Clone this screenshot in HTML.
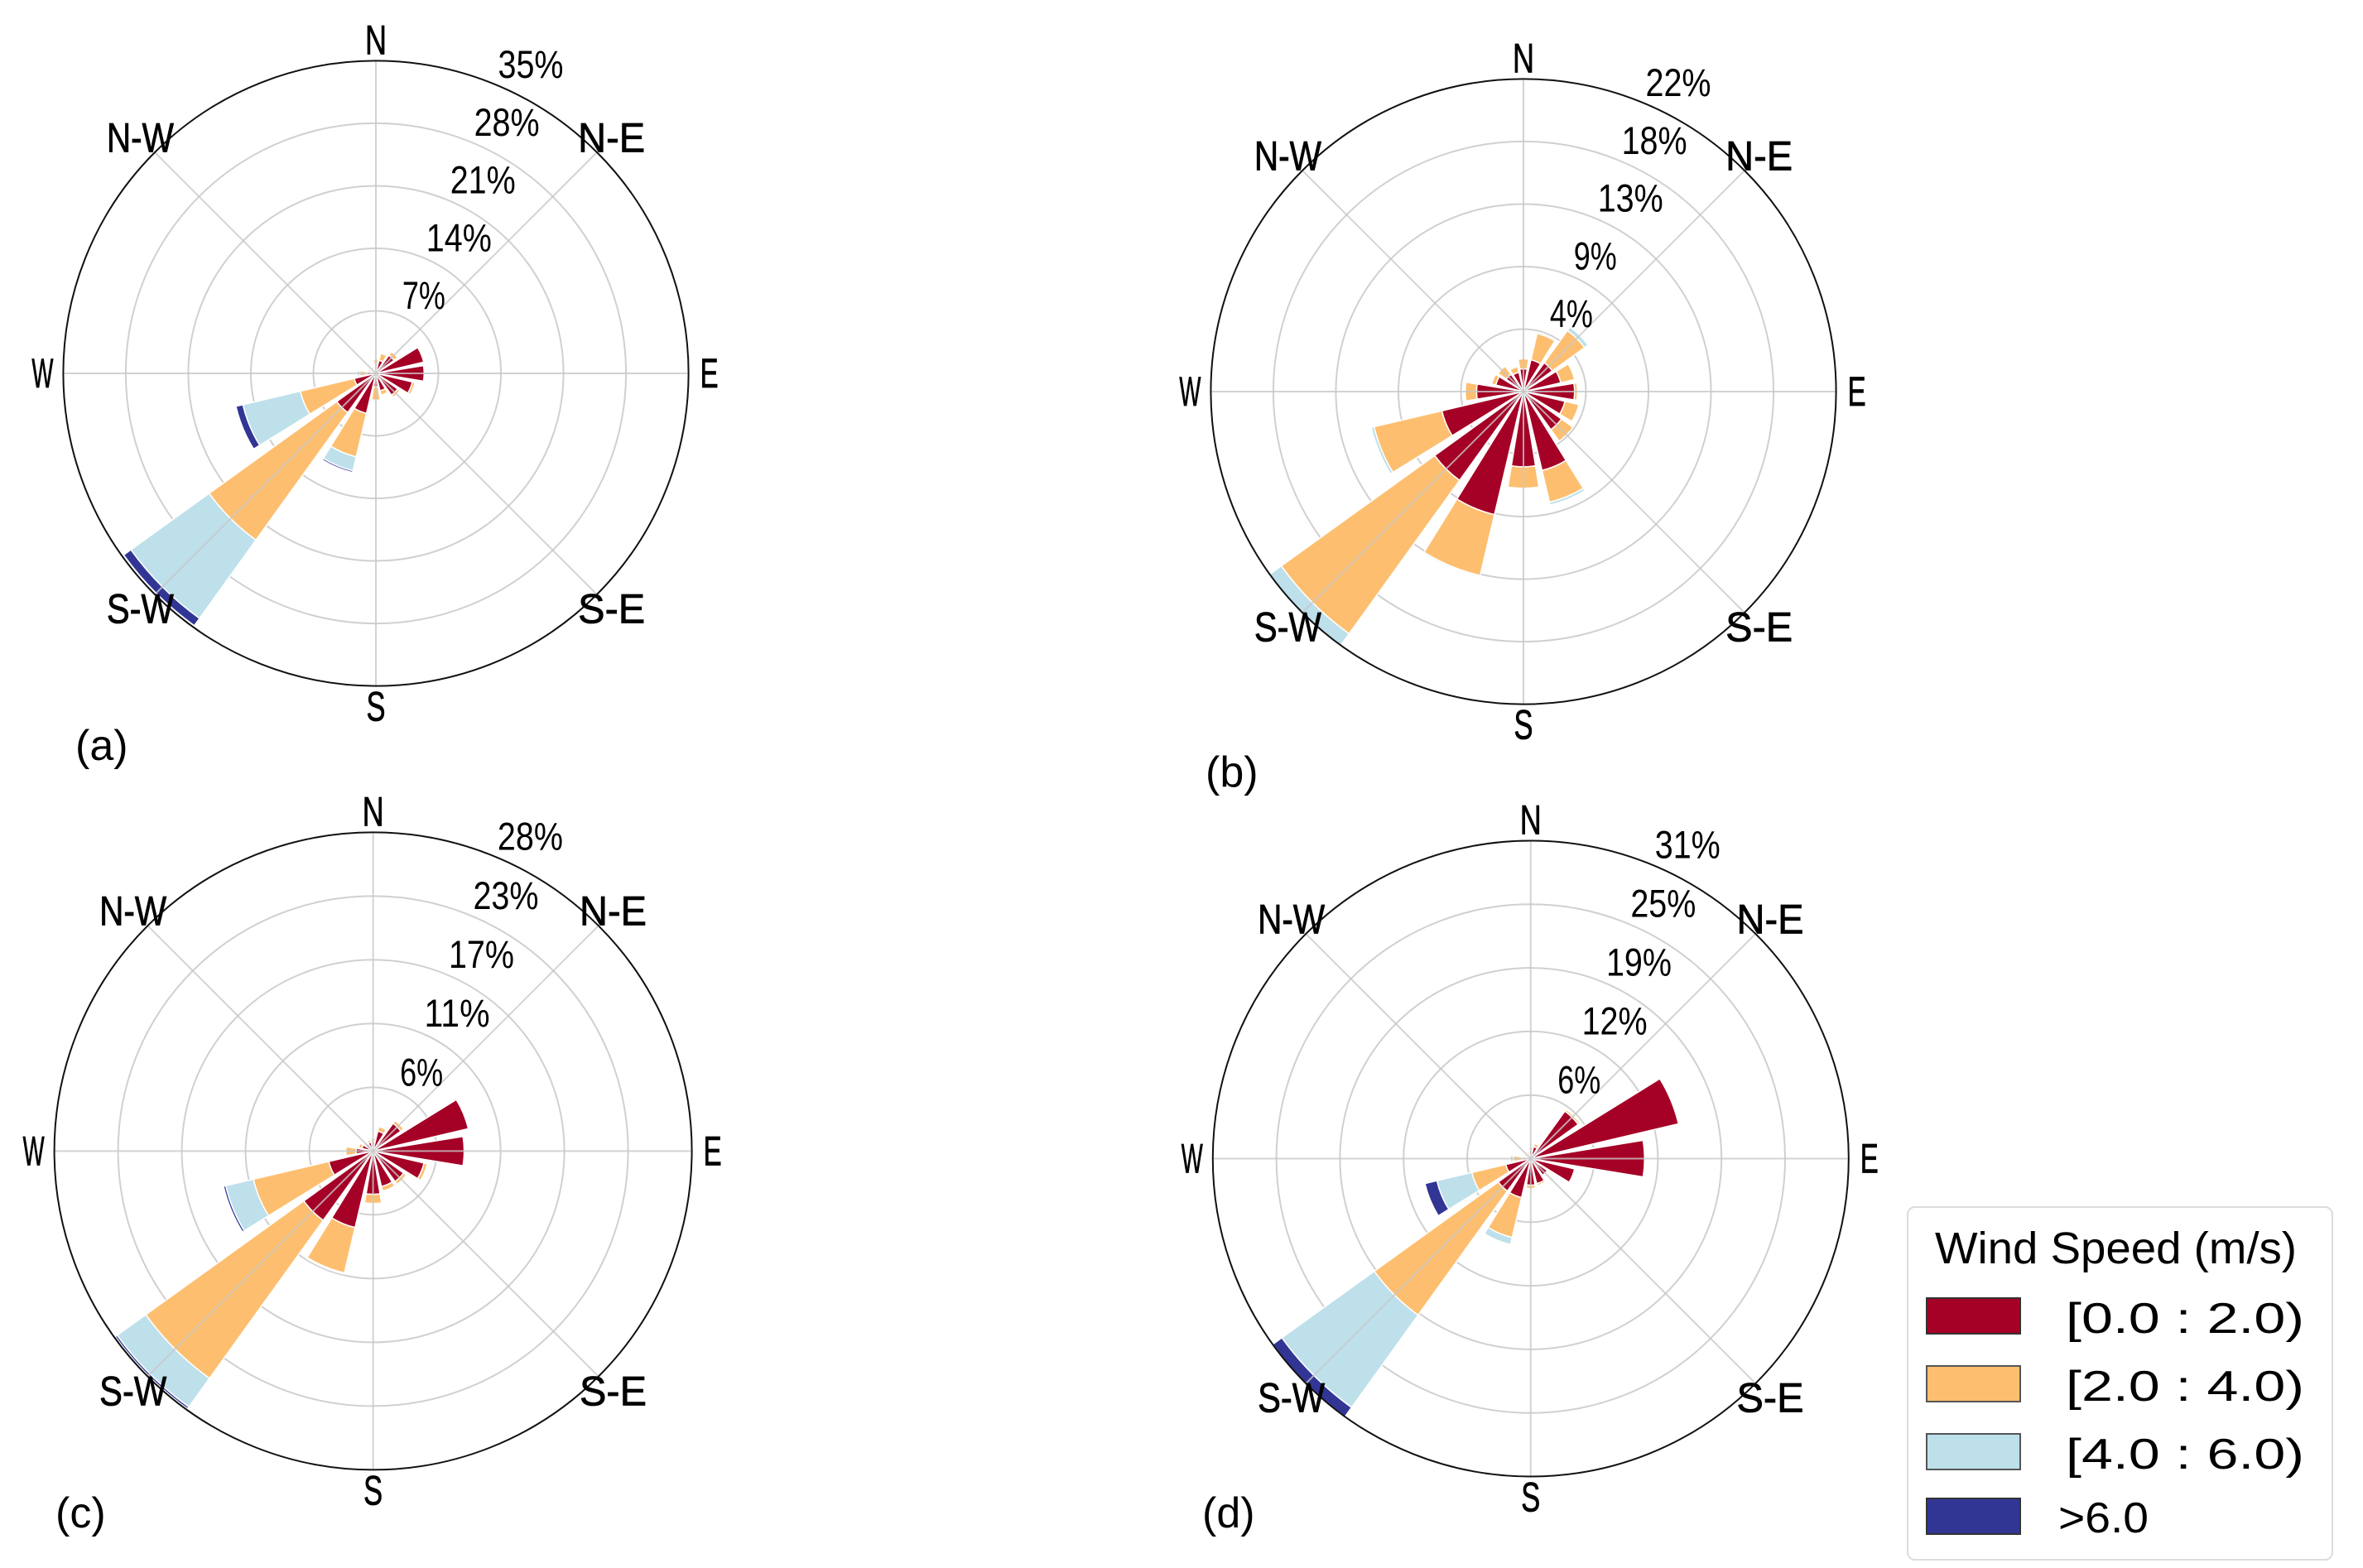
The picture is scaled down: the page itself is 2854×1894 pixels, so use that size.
<!DOCTYPE html>
<html><head><meta charset="utf-8"><style>
html,body{margin:0;padding:0;background:#fff;}
svg{display:block;}
text{font-family:"Liberation Sans","Noto Sans CJK JP",sans-serif;fill:#000;}
</style></head><body>
<svg id="chart" xmlns="http://www.w3.org/2000/svg" width="2854" height="1894" viewBox="0 0 2854 1894">
<rect width="2854" height="1894" fill="#fff"/>
<g id="panels"></g>
<g>
  <rect x="2304" y="1458" width="513" height="426" rx="9" fill="#fff" stroke="#dcdcdc" stroke-width="2"/>
  <text x="2337" y="1526" font-size="54" textLength="437" lengthAdjust="spacingAndGlyphs">Wind Speed (m/s)</text>
  <g><rect x="2327" y="1568" width="113" height="43" fill="#a50026" stroke="#333" stroke-width="2"/><text x="2495" y="1610" font-size="52" textLength="288" lengthAdjust="spacingAndGlyphs">[0.0 : 2.0)</text></g>
  <g><rect x="2327" y="1650" width="113" height="43" fill="#fdbf6f" stroke="#555" stroke-width="2"/><text x="2495" y="1692" font-size="52" textLength="288" lengthAdjust="spacingAndGlyphs">[2.0 : 4.0)</text></g>
  <g><rect x="2327" y="1732" width="113" height="43" fill="#bde0eb" stroke="#555" stroke-width="2"/><text x="2495" y="1774" font-size="52" textLength="288" lengthAdjust="spacingAndGlyphs">[4.0 : 6.0)</text></g>
  <g><rect x="2327" y="1810" width="113" height="43" fill="#313695" stroke="#333" stroke-width="2"/><text x="2486" y="1851" font-size="52" textLength="109" lengthAdjust="spacingAndGlyphs">&gt;6.0</text></g>
</g>
</svg>
<script>
// Sector order: N, NNE, NE, ENE, E, ESE, SE, SSE, S, SSW, SW, WSW, W, WNW, NW, NNW (percent per speed bin)
const directions = ["N","NNE","NE","ENE","E","ESE","SE","SSE","S","SSW","SW","WSW","W","WNW","NW","NNW"];
const speedColors = ["#a50026","#fdbf6f","#bde0eb","#313695"];

const aRed    = [0.8,1.5,2.5,5.5,5.4,4.2,3.0,2.0,1.5,4.6,5.4,2.5,1.0,0.6,0.5,0.5];
const aOrange = [0.8,0.8,0.5,0,0,0.3,0.3,0.5,1.5,5.0,17.6,6.2,0.8,0.3,0.2,0.3];
const aLblue  = [0,0,0,0,0,0,0,0,0,1.6,10.8,6.6,0.3,0,0,0];
const aBlue   = [0,0,0,0,0,0,0,0,0,0.2,1.0,0.8,0,0,0,0];
const aTicks  = ["7%","14%","21%","28%","35%"];
const aMax = 35;

const bRed    = [1.6,2.3,2.5,2.7,3.6,3.0,3.3,5.7,5.3,8.9,7.7,5.9,3.3,2.0,1.5,1.4];
const bOrange = [0.7,1.9,2.8,1.0,0.2,1.0,1.0,2.3,1.5,4.4,13.3,4.9,0.8,0.3,0.7,0.4];
const bLblue  = [0,0.1,0.3,0,0,0,0,0.2,0,0.1,1.0,0.2,0,0,0,0];
const bBlue   = [0,0,0,0,0,0,0,0,0,0,0,0,0,0,0,0];
const bTicks  = ["4%","9%","13%","18%","22%"];
const bMax = 22;

const cRed    = [0.8,1.8,3.0,8.6,8.0,4.6,3.3,3.2,3.8,6.9,7.5,4.0,1.5,1.0,0.8,0.8];
const cOrange = [0.3,0.4,0.3,0.1,0,0.3,0.3,0.4,0.8,4.1,17.1,6.8,0.9,0.3,0.2,0.2];
const cLblue  = [0,0,0,0,0,0,0,0,0,0.1,3.1,2.5,0,0,0,0];
const cBlue   = [0,0,0,0,0,0,0,0,0,0,0.2,0.2,0,0,0,0];
const cTicks  = ["6%","11%","17%","23%","28%"];
const cMax = 28;

const dRed    = [0.8,1.2,5.7,14.8,11.1,4.4,2.0,2.5,2.6,3.9,3.9,2.5,0.8,0.5,0.5,0.5];
const dOrange = [0.3,0.3,0.2,0,0,0.1,0.1,0.2,0.3,4.0,14.9,3.4,0.9,0.2,0.2,0.2];
const dLblue  = [0,0,0,0,0,0,0,0,0,0.7,11.1,3.5,0.3,0,0,0];
const dBlue   = [0,0,0,0,0,0,0,0,0,0,1.1,1.2,0,0,0,0];
const dTicks  = ["6%","12%","19%","25%","31%"];
const dMax = 31;

const NS = "http://www.w3.org/2000/svg";
const root = document.getElementById("panels");
function el(tag, attrs, parent){const e=document.createElementNS(NS,tag);for(const k in attrs)e.setAttribute(k,attrs[k]);parent.appendChild(e);return e;}

const panels = [
  {id:"a", cx:454, cy:451, R:377.6, max:aMax, ticks:aTicks, series:[aRed,aOrange,aLblue,aBlue], lx:91, ly:918},
  {id:"b", cx:1840, cy:473, R:377.6, max:bMax, ticks:bTicks, series:[bRed,bOrange,bLblue,bBlue], lx:1456, ly:950},
  {id:"c", cx:450.6, cy:1390.4, R:385, max:cMax, ticks:cTicks, series:[cRed,cOrange,cLblue,cBlue], lx:67, ly:1845},
  {id:"d", cx:1848.8, cy:1399.5, R:384, max:dMax, ticks:dTicks, series:[dRed,dOrange,dLblue,dBlue], lx:1452, ly:1845}
];
const compass = [["N",0,26],["N-E",45,81],["E",90,22],["S-E",135,81],["S",180,23],["S-W",225,81],["W",270,26],["N-W",315,81]];
const WIDTH = 18.5;

panels.forEach(p=>{
  const g = el("g",{},root);
  
  
  const rScale = v => v / p.max * p.R;
  const pt = (r,deg)=>{const t=deg*Math.PI/180;return [p.cx + r*Math.sin(t), p.cy - r*Math.cos(t)];};
  for(let i=1;i<=4;i++){
    const c = el("circle",{cx:p.cx,cy:p.cy,r:p.R*i/5,fill:"none",stroke:"#d0d0d0","stroke-width":2},g);
    
    
  }
  directions.forEach((dname,k)=>{
    let cum = 0;
    const theta = k*22.5;
    p.series.forEach((ser,si)=>{
      const v = ser[k];
      if(v<=0) return;
      const r0 = rScale(cum), r1 = rScale(cum+v);
      cum += v;
      const a0 = theta - WIDTH/2, a1 = theta + WIDTH/2;
      const [x1,y1]=pt(r1,a0),[x2,y2]=pt(r1,a1);
      let d;
      if(r0<0.5){ d=`M${p.cx},${p.cy}L${x1},${y1}A${r1},${r1} 0 0 1 ${x2},${y2}Z`; }
      else { const [x3,y3]=pt(r0,a1),[x4,y4]=pt(r0,a0);
        d=`M${x4},${y4}L${x1},${y1}A${r1},${r1} 0 0 1 ${x2},${y2}L${x3},${y3}A${r0},${r0} 0 0 0 ${x4},${y4}Z`; }
      const path = el("path",{d:d,fill:speedColors[si],stroke:"#fff","stroke-width":1.5},g);
      
      
    });
  });
  for(let k=0;k<8;k++){
    const [x,y]=pt(p.R,k*45);
    const l = el("line",{x1:p.cx,y1:p.cy,x2:x,y2:y,stroke:"#c8c8c8","stroke-width":2,"stroke-opacity":0.8},g);
    
    
  }
  const oc = el("circle",{cx:p.cx,cy:p.cy,r:p.R,fill:"none",stroke:"#111","stroke-width":2},g);
  
  
  p.ticks.forEach((t,i)=>{
    const [x,y]=pt(p.R*(i+1)/5,22.5);
    const nd = t.length-1;
    const tx = el("text",{x:x+3,y:y-8,"font-size":47,textLength:27*nd+25,lengthAdjust:"spacingAndGlyphs"},g);
    tx.textContent = t;
    
    
  });
  compass.forEach(([lab,deg,w])=>{
    const [x,y]=pt(p.R+25,deg);
    const tx = el("text",{x:x,y:y+17,"font-size":50,"text-anchor":"middle",textLength:w,lengthAdjust:"spacingAndGlyphs",stroke:"#000","stroke-width":0.8},g);
    tx.textContent = lab;
    
    
  });
  const pl = el("text",{x:p.lx,y:p.ly,"font-size":52},g);
  pl.textContent = "(" + p.id + ")";
  
  
});
</script>
</body></html>
